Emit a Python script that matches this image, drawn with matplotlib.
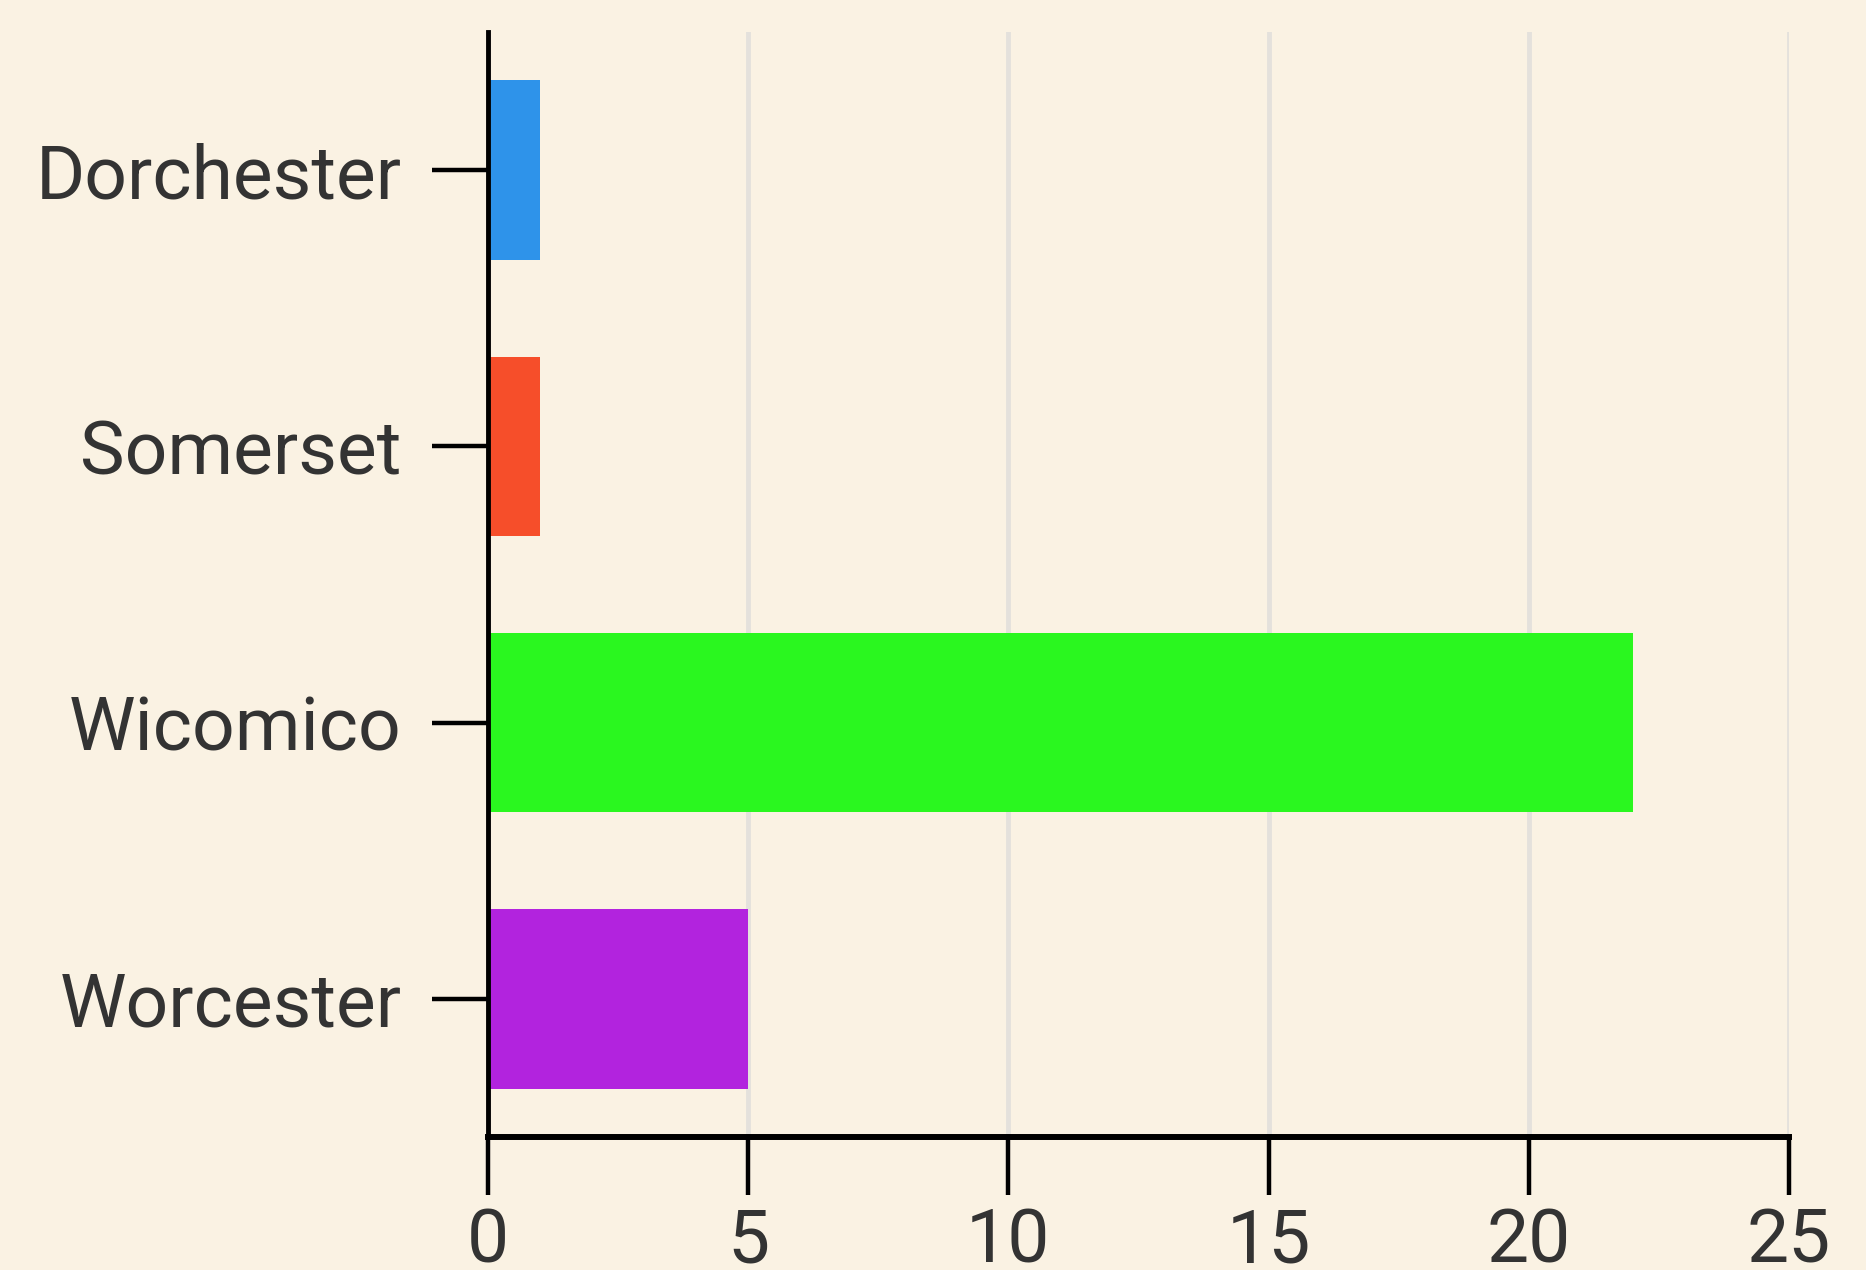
import matplotlib
matplotlib.use("Agg")
import matplotlib.pyplot as plt
from matplotlib import font_manager

counties = ["Dorchester", "Somerset", "Wicomico", "Worcester"]
counts = [1, 1, 22, 5]
colors = ["#2E93EA", "#F64E2A", "#2AF71F", "#B223DE"]
xticks = [0, 5, 10, 15, 20, 25]

names = {f.name for f in font_manager.fontManager.ttflist}
font = "Liberation Sans Narrow" if "Liberation Sans Narrow" in names else "Roboto"
plt.rcParams["font.family"] = [font, "DejaVu Sans"]

bg = "#FAF2E3"
fig = plt.figure(figsize=(18.66, 12.70), dpi=100, facecolor=bg)
ax = fig.add_axes([0.2615, 0.1047, 0.6972, 0.8701], facecolor=bg)

ax.barh(range(len(counties)), counts, height=0.65, color=colors, zorder=3)

ax.set_ylim(len(counties) - 0.5, -0.5)
ax.set_xlim(0, 25)
ax.set_yticks(range(len(counties)))
ax.set_yticklabels(counties)
ax.set_xticks(xticks)
ax.set_xticklabels([str(t) for t in xticks])

ax.grid(axis="x", color="#E4E1DC", linewidth=3.5, zorder=0)
for s in ["top", "right"]:
    ax.spines[s].set_visible(False)
ax.spines["left"].set_linewidth(3.5)
ax.spines["bottom"].set_linewidth(4.3)
ax.spines["left"].set_zorder(4)

ax.tick_params(axis="y", length=40, width=3.2, pad=22, labelsize=54, labelcolor="#333333")
ax.tick_params(axis="x", length=42, width=3.2, pad=8, labelsize=54, labelcolor="#333333")

fig.savefig("out.png", dpi=100, facecolor=bg)
